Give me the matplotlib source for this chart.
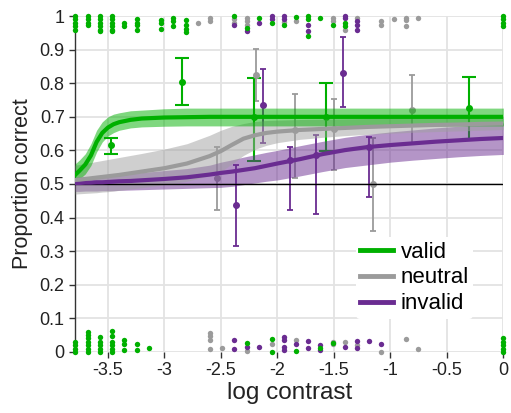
import numpy as np
import matplotlib
matplotlib.use("Agg")
import matplotlib.pyplot as plt

plt.rcParams['font.family'] = ['Liberation Sans', 'DejaVu Sans']
plt.rcParams['axes.unicode_minus'] = False

# fitted curves
curve_x = [-3.79, -3.75, -3.7, -3.65, -3.6, -3.55, -3.5, -3.45, -3.4, -3.3, -3.2, -3.0,
           -2.8, -2.6, -2.5, -2.4, -2.3, -2.2, -2.1, -2.0, -1.8, -1.6, -1.4, -1.2, -1.0,
           -0.8, -0.6, -0.4, -0.2, 0.0]
valid_fit = [0.527, 0.54, 0.558, 0.585, 0.625, 0.652, 0.668, 0.678, 0.684, 0.691, 0.695, 0.698,
             0.699, 0.70, 0.70, 0.70, 0.70, 0.70, 0.70, 0.70, 0.70, 0.70, 0.70, 0.70, 0.70,
             0.70, 0.70, 0.70, 0.70, 0.70]
valid_lo = [0.505, 0.515, 0.53, 0.555, 0.595, 0.625, 0.643, 0.653, 0.66, 0.667, 0.67, 0.672,
            0.673, 0.673, 0.673, 0.673, 0.673, 0.673, 0.673, 0.673, 0.673, 0.673, 0.673, 0.673, 0.673,
            0.673, 0.673, 0.673, 0.673, 0.673]
valid_hi = [0.56, 0.572, 0.59, 0.62, 0.66, 0.685, 0.70, 0.708, 0.712, 0.718, 0.72, 0.724,
            0.726, 0.726, 0.726, 0.726, 0.726, 0.726, 0.726, 0.726, 0.726, 0.726, 0.726, 0.726, 0.726,
            0.726, 0.726, 0.726, 0.726, 0.726]
neutral_fit = [0.512, 0.513, 0.515, 0.517, 0.519, 0.521, 0.523, 0.525, 0.527, 0.532, 0.537, 0.547,
               0.561, 0.583, 0.598, 0.617, 0.635, 0.645, 0.652, 0.656, 0.661, 0.664, 0.667, 0.670, 0.672,
               0.674, 0.676, 0.677, 0.679, 0.680]
neutral_lo = [0.470, 0.471, 0.472, 0.473, 0.474, 0.476, 0.477, 0.479, 0.481, 0.485, 0.489, 0.498,
              0.508, 0.525, 0.537, 0.56, 0.585, 0.603, 0.615, 0.623, 0.633, 0.639, 0.644, 0.648, 0.651,
              0.654, 0.656, 0.658, 0.66, 0.662]
neutral_hi = [0.556, 0.558, 0.561, 0.564, 0.567, 0.57, 0.573, 0.576, 0.579, 0.585, 0.591, 0.604,
              0.62, 0.645, 0.66, 0.672, 0.68, 0.686, 0.689, 0.69, 0.692, 0.693, 0.694, 0.695, 0.697,
              0.698, 0.699, 0.70, 0.701, 0.702]
invalid_fit = [0.503, 0.503, 0.504, 0.504, 0.505, 0.505, 0.506, 0.507, 0.508, 0.509, 0.511, 0.515,
               0.52, 0.528, 0.533, 0.537, 0.542, 0.547, 0.554, 0.561, 0.574, 0.589, 0.601, 0.61, 0.616,
               0.621, 0.626, 0.63, 0.634, 0.637]
invalid_lo = [0.478, 0.478, 0.479, 0.479, 0.479, 0.48, 0.48, 0.48, 0.481, 0.482, 0.483, 0.485,
              0.487, 0.489, 0.49, 0.493, 0.498, 0.503, 0.508, 0.512, 0.524, 0.537, 0.549, 0.557, 0.565,
              0.571, 0.576, 0.581, 0.585, 0.588]
invalid_hi = [0.52, 0.521, 0.522, 0.522, 0.523, 0.524, 0.525, 0.527, 0.528, 0.531, 0.534, 0.54,
              0.546, 0.556, 0.565, 0.572, 0.58, 0.587, 0.594, 0.60, 0.614, 0.627, 0.639, 0.648, 0.655,
              0.661, 0.667, 0.672, 0.677, 0.682]

# binned data with error bars
valid_x = [-3.47, -2.84, -2.205, -1.57, -0.30]
valid_mean = [0.615, 0.805, 0.70, 0.70, 0.727]
valid_elo = [0.59, 0.735, 0.569, 0.599, 0.634]
valid_ehi = [0.638, 0.876, 0.815, 0.80, 0.82]

neutral_x = [-2.53, -2.19, -1.84, -1.50, -1.155, -0.81]
neutral_mean = [0.517, 0.826, 0.66, 0.665, 0.50, 0.72]
neutral_elo = [0.423, 0.748, 0.519, 0.543, 0.361, 0.619]
neutral_ehi = [0.611, 0.902, 0.767, 0.754, 0.636, 0.824]

invalid_x = [-2.365, -2.13, -1.89, -1.655, -1.42, -1.19]
invalid_mean = [0.4375, 0.734, 0.57, 0.585, 0.832, 0.61]
invalid_elo = [0.315, 0.621, 0.424, 0.41, 0.73, 0.46]
invalid_ehi = [0.557, 0.842, 0.609, 0.646, 0.937, 0.641]

# single trials (correct near 1, wrong near 0)
valid_trials = [(-3.79, [1.0, 0.99, 0.98, 0.97, 0.96]), (-3.68, [1.0, 0.99, 0.98, 0.975]),
                (-3.57, [1.0, 0.99, 0.98, 0.97, 0.96, 0.955]), (-3.46, [1.0, 0.99, 0.98, 0.97, 0.96, 0.955]),
                (-3.354, [0.98, 0.97]), (-3.245, [0.99, 0.98, 0.975, 0.96]),
                (-3.03, [0.988, 0.978, 0.963]), (-2.92, [0.995, 0.985, 0.97]),
                (-2.81, [0.988, 0.975, 0.963, 0.952]), (-2.38, [1.0]), (-2.27, [0.965]),
                (-2.16, [0.995]), (-2.05, [0.98]), (-1.945, [0.973]), (-1.836, [0.998]),
                (-1.73, [1.0, 0.99, 0.941]), (-1.62, [0.995]), (-1.51, [0.975]),
                (-1.405, [0.98, 0.97]), (0.0, [1.0, 0.99, 0.98, 0.97]),
                (-3.79, [0.0, 0.01, 0.02, 0.03]), (-3.68, [0.0, 0.01, 0.02, 0.03, 0.04, 0.05, 0.06]),
                (-3.57, [0.0, 0.01, 0.02, 0.03, 0.045]), (-3.46, [0.0, 0.01, 0.02, 0.03, 0.046, 0.062]),
                (-3.354, [0.005, 0.022, 0.036]), (-3.245, [0.006, 0.024]), (-3.135, [0.013]),
                (-2.27, [0.026]), (-2.05, [0.0, 0.039]), (-1.836, [0.004]), (-1.62, [0.013]),
                (-1.51, [0.027]), (0.0, [0.0, 0.01, 0.02, 0.03, 0.04])]
neutral_trials = [(-2.70, [0.98]), (-2.595, [0.995, 0.985]), (-2.38, [0.99, 0.98]),
                  (-2.27, [0.995, 0.985, 0.975]), (-1.945, [0.983]), (-1.836, [0.985]),
                  (-1.51, [0.995, 0.985]), (-1.405, [0.96]), (-1.296, [0.995]),
                  (-1.08, [0.985, 0.975]), (-0.97, [0.99]), (-0.862, [0.995, 0.987, 0.97]),
                  (-0.756, [0.993]),
                  (-2.595, [0.008, 0.036, 0.046, 0.056]), (-2.49, [0.011]), (-2.27, [0.004]),
                  (-2.05, [0.024]), (-1.836, [0.036]), (-1.51, [0.03, 0.022]), (-1.405, [0.03]),
                  (-1.296, [0.021]), (-1.08, [0.0]), (-0.862, [0.039]), (-0.756, [0.01])]
invalid_trials = [(-2.38, [0.975]), (-2.27, [0.955]), (-2.16, [0.98]), (-2.05, [1.0, 0.99]),
                  (-1.945, [1.0, 0.99]), (-1.73, [0.975, 0.955]), (-1.405, [1.0, 0.993]),
                  (-1.296, [0.985, 0.975, 0.958]),
                  (-2.38, [0.034, 0.009]), (-2.27, [0.016]), (-2.16, [0.016]),
                  (-1.945, [0.044, 0.034, 0.014, 0.006]), (-1.836, [0.023]), (-1.73, [0.031, 0.013]),
                  (-1.62, [0.021, 0.006]), (-1.405, [0.016]), (-1.296, [0.033, 0.011]),
                  (-1.19, [0.033]), (-1.08, [0.023])]

labels = ['valid', 'neutral', 'invalid']
xticks = [-3.5, -3, -2.5, -2, -1.5, -1, -0.5, 0]
xtick_labels = ['-3.5', '-3', '-2.5', '-2', '-1.5', '-1', '-0.5', '0']
yticks = [0, 0.1, 0.2, 0.3, 0.4, 0.5, 0.6, 0.7, 0.8, 0.9, 1]
ytick_labels = ['0', '0.1', '0.2', '0.3', '0.4', '0.5', '0.6', '0.7', '0.8', '0.9', '1']

green = '#00b000'
grey = '#9b9b9b'
purple = '#6a2c91'

fig = plt.figure(figsize=(5.11, 4.13), dpi=100)
ax = fig.add_axes([0.147, 0.148, 0.838, 0.813])

# error bars
ax.errorbar(neutral_x, neutral_mean,
            yerr=[np.subtract(neutral_mean, neutral_elo), np.subtract(neutral_ehi, neutral_mean)],
            fmt='o', color=grey, ms=4, lw=1.3, capsize=2, capthick=1.3, zorder=2)
ax.errorbar(invalid_x, invalid_mean,
            yerr=[np.subtract(invalid_mean, invalid_elo), np.subtract(invalid_ehi, invalid_mean)],
            fmt='o', color=purple, ms=4, lw=1.3, capsize=2, capthick=1.3, zorder=2)
ax.errorbar(valid_x, valid_mean,
            yerr=[np.subtract(valid_mean, valid_elo), np.subtract(valid_ehi, valid_mean)],
            fmt='o', color=green, ms=4, lw=1.5, capsize=5, capthick=1.5, zorder=2)

# bands
ax.fill_between(curve_x, invalid_lo, invalid_hi, color=purple, alpha=0.5, lw=0, zorder=3)
ax.fill_between(curve_x, neutral_lo, neutral_hi, color='#a0a0a0', alpha=0.5, lw=0, zorder=3)
ax.fill_between(curve_x, valid_lo, valid_hi, color=green, alpha=0.5, lw=0, zorder=3)

ax.axhline(0.5, color='black', lw=1, zorder=3.5)

ax.plot(curve_x, invalid_fit, color=purple, lw=3, zorder=4, label=labels[2])
ax.plot(curve_x, neutral_fit, color=grey, lw=3, zorder=4, label=labels[1])
ax.plot(curve_x, valid_fit, color=green, lw=3, zorder=4, label=labels[0])

for trials, col in [(neutral_trials, grey), (invalid_trials, purple), (valid_trials, green)]:
    xs = [x for x, ys in trials for _ in ys]
    ys = [y for _, yy in trials for y in yy]
    ax.scatter(xs, ys, s=15, color=col, lw=0, zorder=5, clip_on=False)

ax.set_xlim(-3.79, 0)
ax.set_ylim(0, 1)
ax.set_xticks(xticks)
ax.set_xticklabels(xtick_labels)
ax.set_yticks(yticks)
ax.set_yticklabels(ytick_labels)
ax.grid(True, color='#e3e3e3', lw=1.3, zorder=0)
ax.set_axisbelow(True)
for s in ['top', 'right', 'bottom']:
    ax.spines[s].set_visible(False)
ax.spines['left'].set_color('#333333')
ax.spines['left'].set_linewidth(1)
ax.tick_params(axis='both', colors='#333333', labelcolor='#222222', labelsize=13, length=4, width=1)
ax.set_xlabel('log contrast', fontsize=17.5, color='#222222', labelpad=2)
ax.set_ylabel('Proportion correct', fontsize=15.5, color='#222222', labelpad=5)

h, l = ax.get_legend_handles_labels()
leg = ax.legend(h[::-1], l[::-1], loc='upper left', bbox_to_anchor=(0.63, 0.375), fontsize=16,
                frameon=True, facecolor='white', edgecolor='none', framealpha=1,
                handlelength=1.45, handletextpad=0.35, labelspacing=0.22, borderpad=0.2)
for line in leg.get_lines():
    line.set_linewidth(3.5)
leg.set_zorder(6)

fig.savefig('out.png', dpi=100)
